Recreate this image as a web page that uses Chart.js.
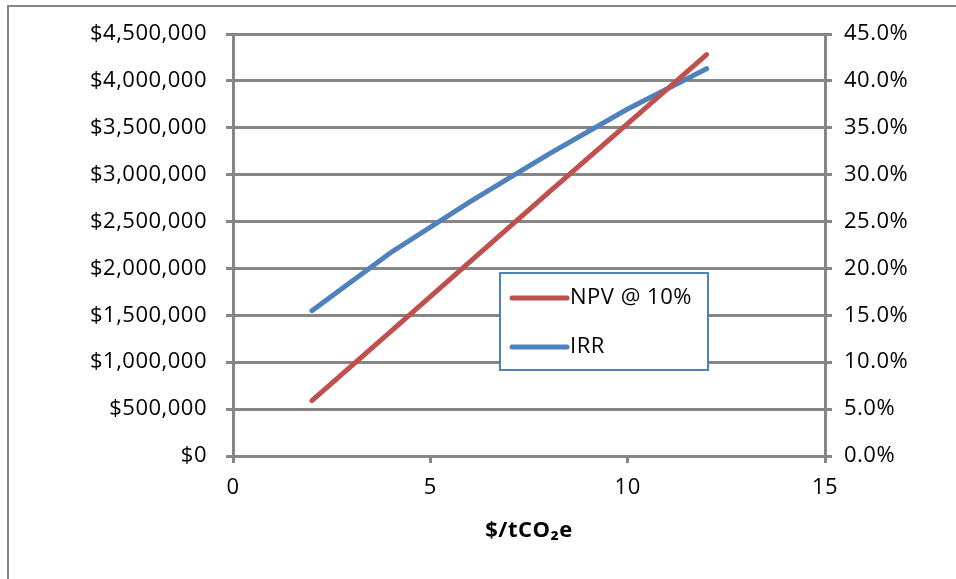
<!DOCTYPE html>
<html>
<head>
<meta charset="utf-8">
<script src="https://cdn.jsdelivr.net/npm/chart.js@4.4.1/dist/chart.umd.min.js"></script>
<style>
  html, body { margin: 0; padding: 0; background: #fff; }
  canvas { display: block; }
</style>
</head>
<body>
<canvas id="chart" width="956" height="579"></canvas>
<script>
// carbon price ($/tCO2e)
var prices = [2, 4, 6, 8, 10, 12];
// NPV @ 10% in dollars
var npv = [590000, 1330000, 2070000, 2810000, 3545000, 4280000];
// IRR in percent
var irr = [15.5, 21.7, 27.1, 32.2, 37.0, 41.3];

var xTicks = [0, 5, 10, 15];
var seriesNames = ['NPV @ 10%', 'IRR'];

var fontFamily = "'Open Sans', 'Liberation Sans', sans-serif";
var fontSize = 22;
var gridGray = '#868686';
var spacing = '0.5px';

function toPoints(xs, ys) {
    return xs.map(function (x, i) { return { x: x, y: ys[i] }; });
}

// slightly wider letters like the original, then frame + boxed legend
var extras = {
    id: 'extras',
    beforeDraw: function (chart) {
        chart.ctx.letterSpacing = spacing;
    },
    afterDraw: function (chart) {
        var ctx = chart.ctx;
        ctx.save();
        ctx.letterSpacing = spacing;
        ctx.strokeStyle = gridGray;
        ctx.lineWidth = 2;
        ctx.beginPath();
        ctx.moveTo(8, 579);
        ctx.lineTo(8, 6);
        ctx.lineTo(956, 6);
        ctx.stroke();

        var bx = 500, by = 273, bw = 208, bh = 97;
        ctx.fillStyle = '#fff';
        ctx.fillRect(bx, by, bw, bh);
        ctx.strokeStyle = '#4F81BD';
        ctx.lineWidth = 2;
        ctx.strokeRect(bx, by, bw, bh);

        ctx.font = fontSize + 'px ' + fontFamily;
        ctx.textBaseline = 'middle';
        ctx.lineCap = 'round';
        chart.data.datasets.forEach(function (ds, i) {
            var y = by + 25 + i * 49;
            ctx.strokeStyle = ds.borderColor;
            ctx.lineWidth = 5;
            ctx.beginPath();
            ctx.moveTo(512, y);
            ctx.lineTo(567, y);
            ctx.stroke();
            ctx.fillStyle = '#000';
            ctx.fillText(ds.label, 570, y);
        });
        ctx.restore();
    }
};

new Chart(document.getElementById('chart'), {
    type: 'scatter',
    data: {
        datasets: [{
            label: seriesNames[0],
            data: toPoints(prices, npv),
            yAxisID: 'y',
            showLine: true,
            borderColor: '#C0504D',
            backgroundColor: '#C0504D',
            borderWidth: 5,
            borderCapStyle: 'round',
            pointRadius: 0,
            tension: 0
        }, {
            label: seriesNames[1],
            data: toPoints(prices, irr),
            yAxisID: 'y1',
            showLine: true,
            borderColor: '#4F81BD',
            backgroundColor: '#4F81BD',
            borderWidth: 5,
            borderCapStyle: 'round',
            pointRadius: 0,
            tension: 0
        }]
    },
    options: {
        responsive: false,
        animation: false,
        layout: { padding: { top: 34, left: 0, right: 0, bottom: 0 } },
        plugins: {
            legend: { display: false },
            tooltip: { enabled: false }
        },
        scales: {
            x: {
                type: 'linear',
                min: 0,
                max: 15,
                afterBuildTicks: function (axis) {
                    axis.ticks = xTicks.map(function (v) { return { value: v }; });
                },
                afterFit: function (axis) { axis.height = 123; },
                grid: {
                    drawOnChartArea: false,
                    drawTicks: true,
                    tickLength: 7,
                    color: gridGray,
                    lineWidth: 3
                },
                border: { display: false },
                ticks: {
                    color: '#000',
                    padding: 12,
                    maxRotation: 0,
                    font: { family: fontFamily, size: fontSize }
                },
                title: {
                    display: true,
                    text: '$/tCO\u2082e',
                    color: '#000',
                    padding: { top: 4, bottom: 35 },
                    font: { family: fontFamily, size: fontSize, weight: 'bold' }
                }
            },
            y: {
                position: 'left',
                min: 0,
                max: 4500000,
                afterFit: function (axis) { axis.width = 233; },
                grid: {
                    color: gridGray,
                    lineWidth: 3,
                    tickLength: 7
                },
                border: { display: true, color: gridGray, width: 3 },
                ticks: {
                    stepSize: 500000,
                    color: '#000',
                    padding: 19,
                    font: { family: fontFamily, size: fontSize },
                    callback: function (v) { return '$' + v.toLocaleString('en-US'); }
                }
            },
            y1: {
                position: 'right',
                min: 0,
                max: 45,
                afterFit: function (axis) { axis.width = 131; },
                grid: {
                    drawOnChartArea: false,
                    color: gridGray,
                    lineWidth: 3,
                    tickLength: 7
                },
                border: { display: true, color: gridGray, width: 3 },
                ticks: {
                    stepSize: 5,
                    color: '#000',
                    padding: 12,
                    font: { family: fontFamily, size: fontSize },
                    callback: function (v) { return v.toFixed(1) + '%'; }
                }
            }
        }
    },
    plugins: [extras]
});
</script>
</body>
</html>
